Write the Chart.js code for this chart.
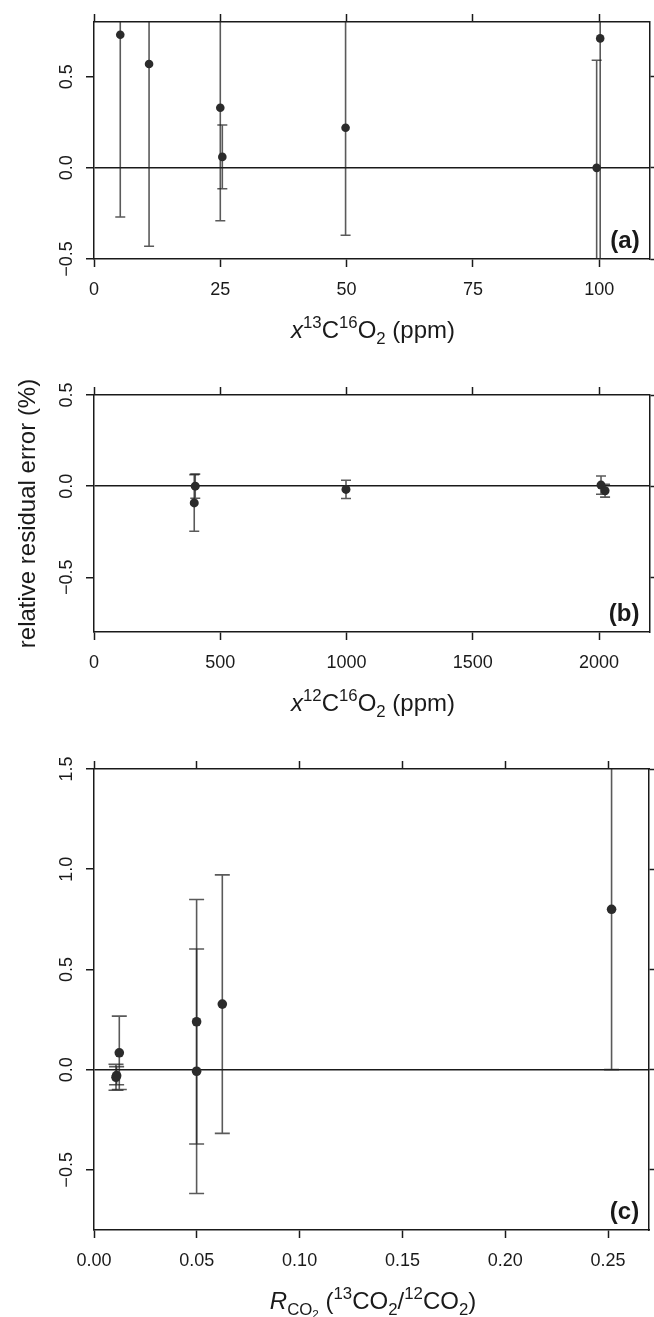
<!DOCTYPE html>
<html>
<head>
<meta charset="utf-8">
<script src="https://cdn.jsdelivr.net/npm/chart.js@4.4.1/dist/chart.umd.min.js"></script>
<style>
  body { margin: 0; background: #fff; }
  #wrap { position: relative; width: 654px; height: 1317px; font-family: "Liberation Sans", Arial, sans-serif; color: #1a1a1a; }
  canvas { position: absolute; left: 0; }
  .xt { position: absolute; left: 94px; width: 558px; height: 28px; line-height: 28px; text-align: center; font-size: 24px; white-space: nowrap; }
  .up { font-size: 0.7em; position: relative; top: -0.6em; }
  .dn { font-size: 0.7em; position: relative; top: 0.35em; }
  .dn .dn { top: 0.25em; }
</style>
</head>
<body>
<div id="wrap">
  <canvas id="ca" width="654" height="345" style="top:0"></canvas>
  <canvas id="cb" width="654" height="380" style="top:345px"></canvas>
  <canvas id="cc" width="654" height="592" style="top:725px"></canvas>
  <div class="xt" style="top:316px"><i>x</i><span class="up">13</span>C<span class="up">16</span>O<span class="dn">2</span> (ppm)</div>
  <div class="xt" style="top:689px"><i>x</i><span class="up">12</span>C<span class="up">16</span>O<span class="dn">2</span> (ppm)</div>
  <div class="xt" style="top:1287px"><i>R</i><span class="dn">CO<span class="dn">2</span></span> (<span class="up">13</span>CO<span class="dn">2</span>/<span class="up">12</span>CO<span class="dn">2</span>)</div>
</div>
<script>
// (a) residuals vs x(13C16O2)
const aX = [5.2, 10.9, 25.0, 25.4, 49.8, 100.2, 99.5];
const aY = [0.73, 0.57, 0.33, 0.06, 0.22, 0.71, 0.00];
const aErr = [1.00, 1.00, 0.62, 0.175, 0.59, 1.30, 0.59];
const aXTicks = [0, 25, 50, 75, 100];
const aYTicks = [-0.5, 0, 0.5];

// (b) residuals vs x(12C16O2)
const bX = [401, 397, 998, 2008, 2024];
const bY = [0.00, -0.092, -0.018, 0.006, -0.025];
const bErr = [0.066, 0.155, 0.05, 0.05, 0.035];
const bXTicks = [0, 500, 1000, 1500, 2000];
const bYTicks = [-0.5, 0, 0.5];

// (c) residuals vs R(CO2)
const cX = [0.0107, 0.0110, 0.0123, 0.0499, 0.0499, 0.0624, 0.2517];
const cY = [-0.038, -0.030, 0.084, 0.239, -0.008, 0.327, 0.80];
const cErr = [0.065, 0.045, 0.183, 0.61, 0.61, 0.645, 0.80];
const cXTicks = [0, 0.05, 0.10, 0.15, 0.20, 0.25];
const cYTicks = [-0.5, 0, 0.5, 1.0, 1.5];

const INK = '#1a1a1a';
const FONT = '"Liberation Sans", Arial, sans-serif';
Chart.defaults.font.family = FONT;

function fmt(v, d) {
  return v.toFixed(d).replace('-', '\u2212');
}

// vertical error bars with caps, clipped to the plot box
const errorBars = {
  id: 'errorBars',
  beforeDatasetsDraw(chart) {
    const { ctx, chartArea: a, scales: { x, y } } = chart;
    const cap = chart.options.plugins.errorBars.cap;
    const ds = chart.data.datasets[0];
    ctx.save();
    ctx.beginPath();
    ctx.rect(a.left, a.top, a.right - a.left, a.bottom - a.top);
    ctx.clip();
    ctx.strokeStyle = 'rgba(35,35,35,0.75)';
    ctx.lineWidth = 1.6;
    ds.data.forEach((p, i) => {
      const px = x.getPixelForValue(p.x);
      const hi = y.getPixelForValue(p.y + ds.errors[i]);
      const lo = y.getPixelForValue(p.y - ds.errors[i]);
      ctx.beginPath();
      ctx.moveTo(px, hi);
      ctx.lineTo(px, lo);
      ctx.moveTo(px - cap / 2, hi);
      ctx.lineTo(px + cap / 2, hi);
      ctx.moveTo(px - cap / 2, lo);
      ctx.lineTo(px + cap / 2, lo);
      ctx.stroke();
    });
    ctx.restore();
  }
};

// rotated y tick labels (R style) and the panel letter
const panelText = {
  id: 'panelText',
  afterDraw(chart) {
    const { ctx, chartArea: a, scales: { y } } = chart;
    ctx.save();
    ctx.fillStyle = INK;
    ctx.font = '18px ' + FONT;
    ctx.textAlign = 'center';
    ctx.textBaseline = 'alphabetic';
    y.ticks.forEach(t => {
      ctx.save();
      ctx.translate(a.left - 22, y.getPixelForValue(t.value));
      ctx.rotate(-Math.PI / 2);
      ctx.fillText(fmt(t.value, 1), 0, 0);
      ctx.restore();
    });
    ctx.font = 'bold 24px ' + FONT;
    ctx.textAlign = 'right';
    ctx.fillText(chart.options.plugins.panelText.tag, a.right - 10, a.bottom - 11);
    ctx.restore();
  }
};

function makeChart(id, d) {
  const tickLine = { drawOnChartArea: false, drawTicks: true, tickLength: 8, tickColor: INK, tickWidth: 1.5 };
  const edge = { display: true, color: INK, width: 1.5 };
  const setTicks = vals => s => { s.ticks = vals.map(v => ({ value: v })); };

  return new Chart(document.getElementById(id), {
    type: 'scatter',
    data: {
      datasets: [{
        data: d.xs.map((x, i) => ({ x, y: d.ys[i] })),
        errors: d.err,
        pointRadius: d.r,
        pointHoverRadius: d.r,
        backgroundColor: '#2b2b2b',
        borderWidth: 0
      }]
    },
    options: {
      responsive: false,
      animation: false,
      events: [],
      layout: { padding: 0 },
      plugins: {
        legend: { display: false },
        tooltip: { enabled: false },
        errorBars: { cap: d.cap },
        panelText: { tag: d.tag }
      },
      scales: {
        x: {
          type: 'linear', position: 'bottom', min: d.xMin, max: d.xMax,
          afterBuildTicks: setTicks(d.xTicks),
          ticks: { color: INK, font: { size: 18 }, padding: 12, maxRotation: 0, autoSkip: false, callback: v => fmt(v, d.xDec) },
          grid: tickLine, border: edge,
          afterFit: s => { s.height = d.bottomH; }
        },
        x2: {
          type: 'linear', position: 'top', min: d.xMin, max: d.xMax,
          afterBuildTicks: setTicks(d.xTicks),
          ticks: { display: false },
          grid: tickLine, border: edge,
          afterFit: s => { s.height = d.topH; }
        },
        y: {
          type: 'linear', position: 'left', min: d.yMin, max: d.yMax,
          afterBuildTicks: setTicks(d.yTicks),
          ticks: { display: false },
          grid: {
            ...tickLine,
            drawOnChartArea: true,
            lineWidth: 1.5,
            color: c => (c.tick && c.tick.value === 0 ? INK : 'rgba(0,0,0,0)')
          },
          border: edge,
          title: d.yTitle
            ? { display: true, text: d.yTitle, color: INK, font: { size: 24 }, padding: { top: 14, bottom: 0 } }
            : { display: false },
          afterFit: s => { s.width = 94; }
        },
        y2: {
          type: 'linear', position: 'right', min: d.yMin, max: d.yMax,
          afterBuildTicks: setTicks(d.yTicks),
          ticks: { display: false },
          grid: tickLine, border: edge,
          afterFit: s => { s.width = 2; }
        }
      }
    },
    plugins: [errorBars, panelText]
  });
}

makeChart('ca', {
  xs: aX, ys: aY, err: aErr, xTicks: aXTicks, yTicks: aYTicks,
  xMin: 0, xMax: 110, yMin: -0.5, yMax: 0.8, xDec: 0,
  r: 4.3, cap: 10, tag: '(a)', topH: 22, bottomH: 86
});

makeChart('cb', {
  xs: bX, ys: bY, err: bErr, xTicks: bXTicks, yTicks: bYTicks,
  xMin: 0, xMax: 2200, yMin: -0.8, yMax: 0.5, xDec: 0,
  r: 4.5, cap: 10, tag: '(b)', topH: 50, bottomH: 93,
  yTitle: 'relative residual error (%)'
});

makeChart('cc', {
  xs: cX, ys: cY, err: cErr, xTicks: cXTicks, yTicks: cYTicks,
  xMin: 0, xMax: 0.27, yMin: -0.8, yMax: 1.5, xDec: 2,
  r: 4.8, cap: 15, tag: '(c)', topH: 44, bottomH: 87
});
</script>
</body>
</html>
